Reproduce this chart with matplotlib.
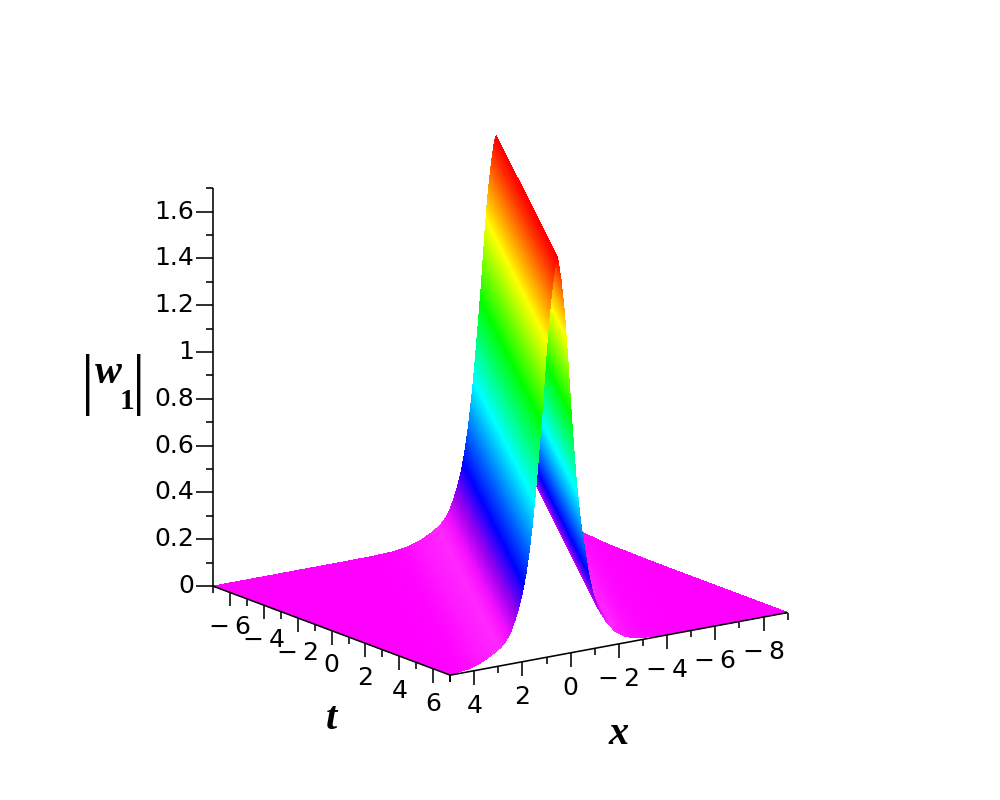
import numpy as np
import matplotlib
matplotlib.use("Agg")
import matplotlib.pyplot as plt
from matplotlib.colors import LinearSegmentedColormap
from mpl_toolkits.mplot3d import proj3d

# Values
ridge_t = [-7, 7]
ridge_x = [-6.75, 0.55]

# Height Of The Ridge Against Distance From Its Crest, Larger X Side
profile_dist = [0, 0.05, 0.1, 0.21, 0.36, 0.48, 0.62, 0.83, 0.94, 1.04, 1.18, 1.31, 1.45, 1.6, 1.77, 1.94, 2.15, 2.35,
                2.77, 3.2, 3.7, 4.3, 5, 6, 16]
profile_z = [1.70, 1.685, 1.66, 1.58, 1.44, 1.28, 1.07, 0.81, 0.68, 0.58, 0.46, 0.37, 0.295, 0.235, 0.18, 0.135, 0.10,
             0.078, 0.05, 0.028, 0.012, 0.004, 0.001, 0, 0]

# Same, Smaller X Side
profile_dist_r = [0, 0.05, 0.15, 0.29, 0.42, 0.6, 0.78, 0.95, 1.12, 1.28, 1.45, 1.7, 2.02, 2.4, 2.85, 3.3, 4, 5, 6, 16]
profile_z_r = [1.70, 1.67, 1.60, 1.46, 1.27, 0.98, 0.73, 0.56, 0.44, 0.33, 0.245, 0.165, 0.105, 0.055, 0.025, 0.012,
               0.004, 0.001, 0, 0]

# Height To Colour
colour_z = [0, 0.03, 0.07, 0.11, 0.20, 0.33, 0.68, 1.02, 1.36, 1.70]
colour_hex = ["#ff00ff", "#ff18ff", "#ff28ff", "#f810ff", "#a000f0", "#0000ff", "#00ffff", "#00ff00", "#ffff00", "#ff0000"]

t_major = [-6, -4, -2, 0, 2, 4, 6]
t_minor = [-7, -5, -3, -1, 1, 3, 5, 7]
x_major = [4, 2, 0, -2, -4, -6, -8]
x_minor = [5, 3, 1, -1, -3, -5, -7, -9]
z_major = [0, 0.2, 0.4, 0.6, 0.8, 1, 1.2, 1.4, 1.6]
z_labels = ["0", "0.2", "0.4", "0.6", "0.8", "1", "1.2", "1.4", "1.6"]
z_minor = [0.1, 0.3, 0.5, 0.7, 0.9, 1.1, 1.3, 1.5, 1.7]

X_MIN, X_MAX = -9, 5
T_MIN, T_MAX = -7, 7
Z_MIN, Z_MAX = 0, 1.7
ELEV, AZIM = 15.3, 54.9

px_xy = 412 / 14  # Pixels Per Unit Of Box Edge
px_z = 235.0
sin_a, cos_a = np.sin(np.radians(AZIM)), np.cos(np.radians(AZIM))


def num_label(v):
    return "\u2212\u2009{}".format(abs(v)) if v < 0 else str(v)


def text_at(x, y, z, s, **kw):
    # Project First So The Text Box Sits Where It Is Drawn
    px, py, _ = proj3d.proj_transform(x, y, z, ax.get_proj())
    ax.text2D(px, py, s, transform=ax.transData, **kw)


# Mesh Columns Follow The Ridge So The Colour Bands Stay Straight, Finer Near The Crest
dist = np.concatenate([np.linspace(-16, -3, 131)[:-1], np.linspace(-3, 3, 1201), np.linspace(3, 16, 131)[1:]])
ts = np.linspace(T_MIN, T_MAX, 57)
D, T = np.meshgrid(dist, ts)
centre = np.interp(T, ridge_t, ridge_x)
X = np.clip(centre + D, X_MIN, X_MAX)
off = X - centre
Z = np.where(off >= 0, np.interp(np.abs(off), profile_dist, profile_z), np.interp(np.abs(off), profile_dist_r, profile_z_r))

cmap = LinearSegmentedColormap.from_list("hue_z", list(zip(np.array(colour_z) / Z_MAX, colour_hex)), N=1024)

fig = plt.figure(figsize=(10, 8), dpi=100)
ax = fig.add_axes([-0.0105, -0.014, 1, 1], projection="3d", computed_zorder=False)
ax.set_proj_type("ortho")
ax.view_init(elev=ELEV, azim=AZIM)
ax.set_xlim(X_MIN, X_MAX, view_margin=0)
ax.set_ylim(T_MIN, T_MAX, view_margin=0)
ax.set_zlim(Z_MIN, Z_MAX, view_margin=0)
ax.set_box_aspect((1, 1, 1), zoom=0.867)
ax.set_axis_off()

ax.plot_surface(X, T, Z, facecolors=cmap(Z / Z_MAX), rcount=Z.shape[0], ccount=Z.shape[1], shade=False,
                linewidth=0, antialiased=False, zorder=1)

line_kw = dict(color="black", lw=1.15, zorder=3, solid_capstyle="butt")
tick_kw = dict(fontsize=18, va="center", zorder=4)

# Axis Lines
ax.plot([X_MAX, X_MAX], [T_MIN, T_MIN], [Z_MIN, Z_MAX], **line_kw)
ax.plot([X_MAX, X_MAX], [T_MIN, T_MAX], [0, 0], **line_kw)
ax.plot([X_MIN, X_MAX], [T_MAX, T_MAX], [0, 0], **line_kw)

# T Ticks Point Straight Down
for t_ in t_major + t_minor:
    size = 14 if t_ in t_major else 7
    ax.plot([X_MAX, X_MAX], [t_, t_], [0, -size / px_z], **line_kw)
for t_ in t_major:
    text_at(X_MAX, t_, -35 / px_z, num_label(t_), ha="center", **tick_kw)

# X Ticks Point Straight Down
for x_ in x_major + x_minor:
    size = 14 if x_ in x_major else 7
    ax.plot([x_, x_], [T_MAX, T_MAX], [0, -size / px_z], **line_kw)
for x_ in x_major:
    text_at(x_, T_MAX, -35 / px_z, num_label(x_), ha="center", **tick_kw)

# Z Ticks Point Left On Screen
for z_ in z_major + z_minor:
    size = 17 if z_ in z_major else 7
    ax.plot([X_MAX, X_MAX + size / px_xy * sin_a], [T_MIN, T_MIN - size / px_xy * cos_a], [z_, z_], **line_kw)
for z_, lab_ in zip(z_major, z_labels):
    text_at(X_MAX + 19 / px_xy * sin_a, T_MIN - 19 / px_xy * cos_a, z_, lab_, ha="right", **tick_kw)

# Axis Labels
label_kw = dict(family="Liberation Serif", weight="bold", style="italic", fontsize=29, ha="center", va="center")
text_at(X_MAX, 0, -89 / px_z, "t", zorder=4, **label_kw)
text_at(-2, T_MAX, -91 / px_z, "x", zorder=4, **label_kw)

fig.text(0.108, 1 - 373 / 800, "w", **label_kw)
fig.text(0.127, 1 - 402 / 800, "1", family="Liberation Serif", weight="bold", fontsize=21, ha="center", va="center")
fig.text(0.088, 1 - 385 / 800, "|", family="Liberation Serif", fontsize=48, ha="center", va="center")
fig.text(0.139, 1 - 385 / 800, "|", family="Liberation Serif", fontsize=48, ha="center", va="center")

fig.savefig("out.png", dpi=100)
